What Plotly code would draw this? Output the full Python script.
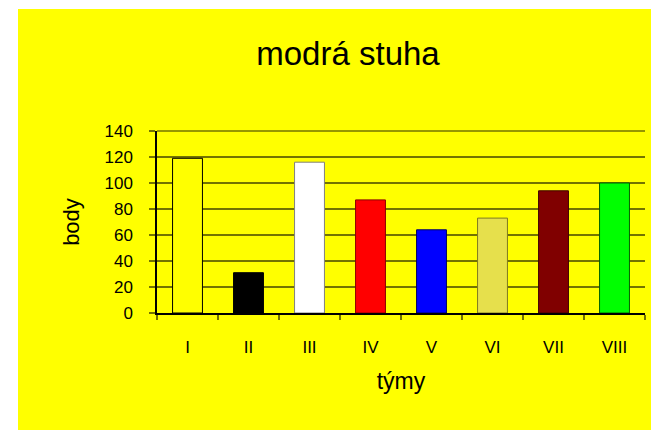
import plotly.graph_objects as go

teams = ["I", "II", "III", "IV", "V", "VI", "VII", "VIII"]
points = [119, 31, 116, 87, 64, 73, 94, 100]
bar_colors = ["#FFFF00", "#000000", "#FFFFFF", "#FF0000", "#0000FF", "#E6E04C", "#800000", "#00FF00"]
edge_colors = ["#000000", "#000000", "#808080", "#8B0000", "#000060", "#7F7A20", "#400000", "#006000"]
y_ticks = [0, 20, 40, 60, 80, 100, 120, 140]

OFF = 8  # page body margin
W, H = 659 - OFF, 430 - OFF
L, T = 157 - OFF, 131 - OFF
R = W - (645 - OFF)
B = H - (313 - OFF)
pw, ph = W - L - R, H - T - B

font = "Liberation Sans, Arial, sans-serif"
grid = "#737300"


def px_x(p):
    return (p - OFF - L) / pw


def px_y(p):
    return (H - B - (p - OFF)) / ph


fig = go.Figure(go.Bar(
    x=teams, y=points,
    marker=dict(color=bar_colors, line=dict(color=edge_colors, width=1)),
    width=0.49,
))

fig.add_shape(type="rect", xref="paper", yref="paper", layer="below",
              x0=px_x(18), x1=px_x(670), y0=px_y(440), y1=px_y(9),
              fillcolor="#FFFF00", line=dict(width=0))
# top gridline at the range end (paper ref so it is not clipped)
fig.add_shape(type="line", xref="paper", yref="paper", layer="below",
              x0=0, x1=1, y0=1, y1=1,
              line=dict(color=grid, width=1.5))

fig.update_layout(
    width=W, height=H,
    margin=dict(l=L, r=R, t=T, b=B, autoexpand=False),
    paper_bgcolor="white", plot_bgcolor="#FFFF00",
    showlegend=False,
    font=dict(family=font, color="black"),
    title=dict(text="modrá stuha", xref="container", x=(348 - OFF) / W, xanchor="center",
               yref="container", y=1 - (53 - OFF) / H, yanchor="middle",
               font=dict(size=33, family=font, color="black")),
)
fig.update_xaxes(
    showline=True, linecolor="black", linewidth=1.5,
    ticks="outside", tickson="boundaries", ticklen=5, tickcolor=grid, tickwidth=1.5,
    tickfont=dict(size=17), ticklabelstandoff=18,
    showgrid=False,
    title=dict(text="týmy", font=dict(size=23), standoff=17),
)
fig.update_yaxes(
    range=[0, 140], tickvals=y_ticks,
    showline=True, linecolor="black", linewidth=1.5,
    ticks="outside", ticklen=6, tickcolor=grid, tickwidth=1.5,
    tickfont=dict(size=17), ticklabelstandoff=13,
    showgrid=True, gridcolor=grid, gridwidth=1.5, zeroline=False,
    title=dict(text="body", font=dict(size=22), standoff=19),
)

fig.write_html("out.html")
